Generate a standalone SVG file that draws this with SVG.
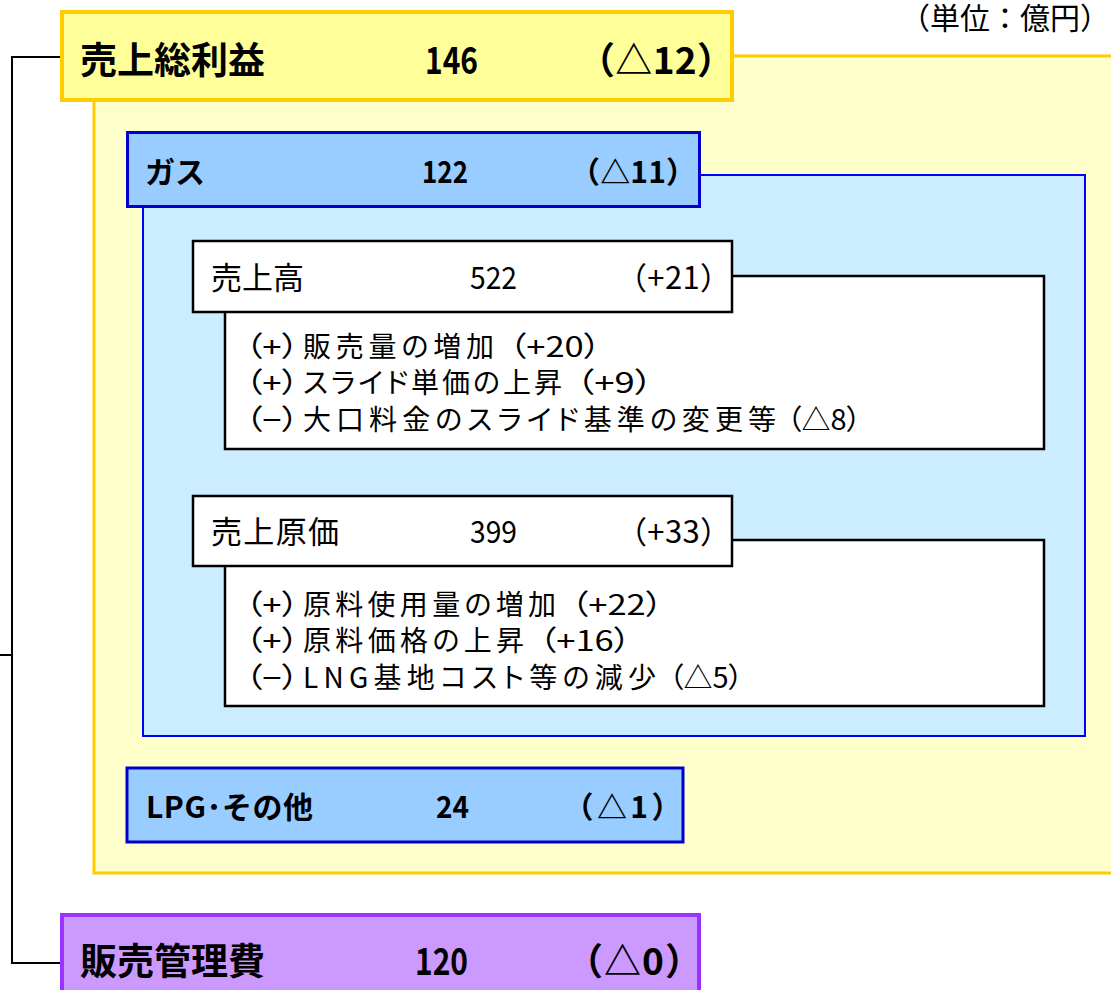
<svg xmlns="http://www.w3.org/2000/svg" width="1111" height="990" viewBox="0 0 1111 990">
<style>
text{font-family:"Noto Sans CJK JP","Liberation Sans",sans-serif;fill:#000}
.h1{font-size:37px;font-weight:bold}
.h2{font-size:30px;font-weight:bold}
.h3{font-size:31px}
.d{font-size:28px;font-feature-settings:"palt"}
.conn{fill:none;stroke:#000;stroke-width:2}
.wbox{fill:#fff;stroke:#000;stroke-width:2.5}
</style>
<rect width="1111" height="990" fill="#fff"/>
<g id="connectors">
<path class="conn" d="M60,57 H12 V963 H60"/>
<path class="conn" d="M0,655 H12"/>
</g>
<g id="unit">
<text x="900" y="29" style="font-size:30px">（単位：億円）</text>
</g>
<g id="gross-profit-panel">
<rect x="94" y="56" width="1030" height="817" fill="#FFFFCC" stroke="#FFCC00" stroke-width="3"/>
</g>
<g id="gross-profit">
<rect x="62" y="12" width="670" height="88" fill="#FFFF99" stroke="#FFCC00" stroke-width="4"/>
<text class="h1" x="80" y="74">売上総利益</text>
<text class="h1" x="425" y="74" textLength="53" lengthAdjust="spacingAndGlyphs">146</text>
<text class="h1" x="578" y="74" textLength="156" lengthAdjust="spacing">（△12）</text>
</g>
<g id="gas-panel">
<rect x="143" y="175" width="942" height="561" fill="#CCECFF" stroke="#0000FF" stroke-width="2"/>
</g>
<g id="gas">
<rect x="127.5" y="132.5" width="572" height="74" fill="#99CCFF" stroke="#0000CC" stroke-width="3"/>
<text class="h2" x="145" y="183">ガス</text>
<text class="h2" x="422" y="183" textLength="46" lengthAdjust="spacingAndGlyphs">122</text>
<text class="h2" x="570" y="183" textLength="126" lengthAdjust="spacing">（△11）</text>
</g>
<g id="sales">
<rect class="wbox" x="225" y="276" width="819" height="173"/>
<rect class="wbox" x="193" y="241" width="539" height="71"/>
<text class="h3" x="211" y="289">売上高</text>
<text class="h3" x="470" y="289" textLength="47" lengthAdjust="spacingAndGlyphs">522</text>
<text class="h3" x="616" y="289" textLength="115" lengthAdjust="spacing">（+21）</text>
<text class="d" x="245" y="357" textLength="54" lengthAdjust="spacingAndGlyphs">（+）</text>
<text class="d" x="303" y="357" textLength="191" lengthAdjust="spacing">販売量の増加</text>
<text class="d" x="509" y="357" textLength="92" lengthAdjust="spacingAndGlyphs">（+20）</text>
<text class="d" x="245" y="393" textLength="54" lengthAdjust="spacingAndGlyphs">（+）</text>
<text class="d" x="303" y="393" textLength="259" lengthAdjust="spacing">スライド単価の上昇</text>
<text class="d" x="576" y="393" textLength="77" lengthAdjust="spacingAndGlyphs">（+9）</text>
<text class="d" x="245" y="430" textLength="54" lengthAdjust="spacingAndGlyphs">（−）</text>
<text class="d" x="303" y="430" textLength="473" lengthAdjust="spacing">大口料金のスライド基準の変更等</text>
<text class="d" x="787" y="430" textLength="74" lengthAdjust="spacingAndGlyphs">（△8）</text>
</g>
<g id="cost">
<rect class="wbox" x="225" y="540" width="819" height="166"/>
<rect class="wbox" x="193" y="496" width="539" height="70"/>
<text class="h3" x="211" y="543" textLength="128" lengthAdjust="spacing">売上原価</text>
<text class="h3" x="470" y="543" textLength="47" lengthAdjust="spacingAndGlyphs">399</text>
<text class="h3" x="616" y="543" textLength="115" lengthAdjust="spacing">（+33）</text>
<text class="d" x="245" y="615" textLength="54" lengthAdjust="spacingAndGlyphs">（+）</text>
<text class="d" x="303" y="615" textLength="253" lengthAdjust="spacing">原料使用量の増加</text>
<text class="d" x="571" y="615" textLength="92" lengthAdjust="spacingAndGlyphs">（+22）</text>
<text class="d" x="245" y="651" textLength="54" lengthAdjust="spacingAndGlyphs">（+）</text>
<text class="d" x="303" y="651" textLength="221" lengthAdjust="spacing">原料価格の上昇</text>
<text class="d" x="539" y="651" textLength="92" lengthAdjust="spacingAndGlyphs">（+16）</text>
<text class="d" x="245" y="688" textLength="54" lengthAdjust="spacingAndGlyphs">（−）</text>
<text class="d" x="303" y="688" textLength="353" lengthAdjust="spacing">LNG基地コスト等の減少</text>
<text class="d" x="669" y="688" textLength="74" lengthAdjust="spacingAndGlyphs">（△5）</text>
</g>
<g id="lpg">
<rect x="127" y="768" width="556" height="74" fill="#99CCFF" stroke="#0000CC" stroke-width="3"/>
<text class="h2" x="146" y="818" textLength="167" lengthAdjust="spacing">LPG･その他</text>
<text class="h2" x="436" y="818" textLength="33" lengthAdjust="spacingAndGlyphs">24</text>
<text class="h2" x="563.5" y="818" textLength="118" lengthAdjust="spacing">（△1）</text>
</g>
<g id="sga">
<rect x="62" y="915" width="637" height="90" fill="#CC99FF" stroke="#9933FF" stroke-width="4"/>
<text class="h1" x="80" y="975">販売管理費</text>
<text class="h1" x="415" y="975" textLength="53" lengthAdjust="spacingAndGlyphs">120</text>
<text class="h1" x="566" y="975" textLength="136" lengthAdjust="spacing">（△0）</text>
</g>
</svg>
